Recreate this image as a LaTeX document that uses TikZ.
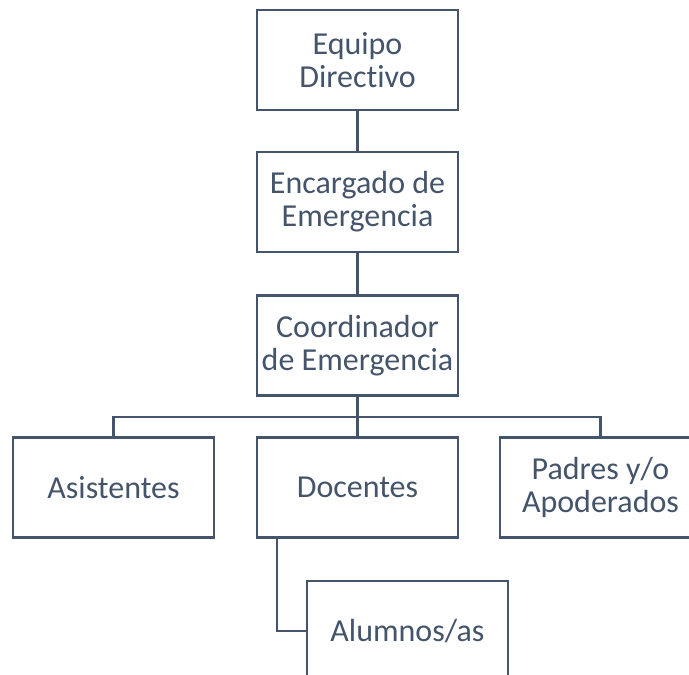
\documentclass[tikz,border=0pt]{standalone}
\usepackage{fontspec}
\setmainfont{Carlito}[Ligatures=NoCommon]
\usetikzlibrary{positioning}
\definecolor{slate}{HTML}{44546A}
\tikzset{
    box/.style = {draw=slate, rectangle, line width=2.8pt,
        minimum height=100pt,
        minimum width=201pt,
        text=slate, align=center,
        font=\fontsize{32}{33}\selectfont},
    link/.style = {draw=slate, line width=2.8pt}
}

\begin{document}
\begin{tikzpicture}[x=1pt, y=-1pt]
    \useasboundingbox (0,0) rectangle (689,675);
    \node[box] (equipo) at (357.5,60) {Equipo\\Directivo};
    \node[box] (encargado) at (357.5,202) {Encargado de\\Emergencia};
    \node[box] (coordinador) at (357.5,345.5) {Coordinador\\de Emergencia};
    \node[box] (asistentes) at (113.5,487.5) {Asistentes};
    \node[box] (docentes) at (357.5,487.5) {Docentes};
    \node[box] (padres) at (600.5,487.5) {Padres y/o\\Apoderados};
    \node[box] (alumnos) at (407.5,631) {Alumnos/as};
    \coordinate (bus) at (357.5,417);
    \draw [link] (equipo) -- (encargado);
    \draw [link] (encargado) -- (coordinador);
    \draw [link] (coordinador) -- (docentes);
    \draw [link] (asistentes.north) |- (bus) -| (padres.north);
    \draw [link] ([xshift=-80.5pt]docentes.south) |- (alumnos.west);
\end{tikzpicture}
\end{document}
